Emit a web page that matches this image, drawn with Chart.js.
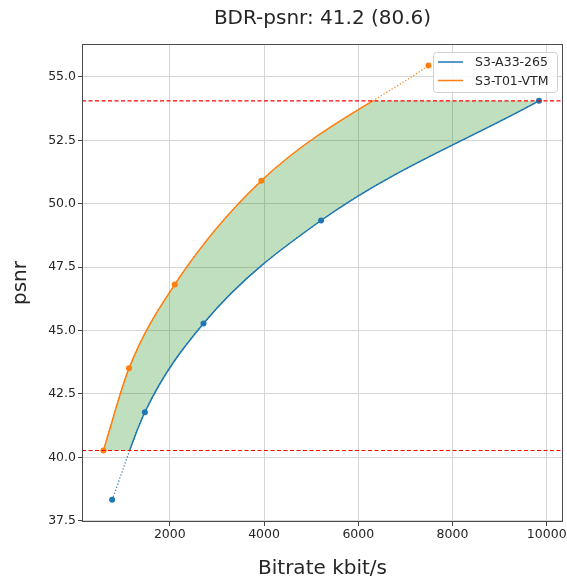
<!DOCTYPE html>
<html>
<head>
<meta charset="utf-8">
<script src="https://cdn.jsdelivr.net/npm/chart.js@4/dist/chart.umd.min.js"></script>
<style>
  html, body { margin: 0; padding: 0; background: #fff; }
  #wrap { width: 567px; height: 585px; }
</style>
</head>
<body>
<div id="wrap"><canvas id="chart" width="567" height="585"></canvas></div>
<script>
// values
const titleText = 'BDR-psnr: 41.2 (80.6)';
const seriesNames = ['S3-A33-265', 'S3-T01-VTM'];
const rateA = [775, 1470, 2715, 5210, 9835];
const psnrA = [38.33, 41.78, 45.28, 49.34, 54.06];
const rateB = [591, 1134, 2106, 3943, 7490];
const psnrB = [40.27, 43.51, 46.82, 50.91, 55.45];
const xTicks = [2000, 4000, 6000, 8000, 10000];
const yTicks = [37.5, 40.0, 42.5, 45.0, 47.5, 50.0, 52.5, 55.0];
const xRange = [136, 10345];
const yRange = [37.45, 56.3];

const colors = ['#1f77b4', '#ff7f0e'];

// overlapping psnr interval used for the BD integral
const bandLow = Math.max(Math.min(...psnrA), Math.min(...psnrB));
const bandHigh = Math.min(Math.max(...psnrA), Math.max(...psnrB));

const toXY = (xs, ys) => xs.map((x, i) => ({x: x, y: ys[i]}));

Chart.defaults.font.family = "'DejaVu Sans', sans-serif";
Chart.defaults.color = '#262626';

function bandRect(chart) {
    const y = chart.scales.y;
    const a = chart.chartArea;
    const top = y.getPixelForValue(bandHigh);
    const bottom = y.getPixelForValue(bandLow);
    return {left: a.left, top: top, width: a.right - a.left, height: bottom - top};
}

// solid lines only inside the band, dotted copies show the rest
const bandClip = {
    id: 'bandClip',
    beforeDatasetDraw(chart, args) {
        if (args.index > 1) return;
        const r = bandRect(chart);
        chart.ctx.save();
        chart.ctx.beginPath();
        chart.ctx.rect(r.left, r.top, r.width, r.height);
        chart.ctx.clip();
    },
    afterDatasetDraw(chart, args) {
        if (args.index > 1) return;
        chart.ctx.restore();
    }
};

// green area between the two curves
const areaFill = {
    id: 'areaFill',
    beforeDatasetsDraw(chart) {
        const ctx = chart.ctx;
        const metaA = chart.getDatasetMeta(0);
        const metaB = chart.getDatasetMeta(1);
        metaA.dataset.updateControlPoints(chart.chartArea, 'x');
        metaB.dataset.updateControlPoints(chart.chartArea, 'x');
        const ptsA = metaA.data;
        const ptsB = metaB.data;
        const r = bandRect(chart);

        ctx.save();
        ctx.beginPath();
        ctx.rect(r.left, r.top, r.width, r.height);
        ctx.clip();
        ctx.beginPath();
        ctx.moveTo(ptsB[0].x, ptsB[0].y);
        for (let i = 1; i < ptsB.length; i++) {
            const p = ptsB[i - 1], q = ptsB[i];
            ctx.bezierCurveTo(p.cp2x, p.cp2y, q.cp1x, q.cp1y, q.x, q.y);
        }
        const last = ptsA.length - 1;
        ctx.lineTo(ptsA[last].x, ptsA[last].y);
        for (let i = last; i > 0; i--) {
            const p = ptsA[i], q = ptsA[i - 1];
            ctx.bezierCurveTo(p.cp1x, p.cp1y, q.cp2x, q.cp2y, q.x, q.y);
        }
        ctx.closePath();
        ctx.fillStyle = 'rgba(0, 128, 0, 0.25)';
        ctx.fill();
        ctx.restore();
    }
};

// red dashed limits, axes frame and legend
const overlay = {
    id: 'overlay',
    afterDatasetsDraw(chart) {
        const ctx = chart.ctx;
        const a = chart.chartArea;
        ctx.save();
        ctx.strokeStyle = '#ff0000';
        ctx.lineWidth = 1.2;
        ctx.setLineDash([4, 2.5]);
        [bandLow, bandHigh].forEach(v => {
            const py = chart.scales.y.getPixelForValue(v);
            ctx.beginPath();
            ctx.moveTo(a.left, py);
            ctx.lineTo(a.right, py);
            ctx.stroke();
        });
        ctx.restore();
    },
    afterDraw(chart) {
        const ctx = chart.ctx;
        const a = chart.chartArea;
        ctx.save();
        ctx.strokeStyle = '#4a4a4a';
        ctx.lineWidth = 1;
        ctx.strokeRect(a.left + 0.5, a.top + 0.5, a.right - a.left - 1, a.bottom - a.top - 1);

        // legend box
        const bx = 433, by = 52, bw = 124, bh = 40;
        ctx.beginPath();
        ctx.roundRect(bx + 0.5, by + 0.5, bw, bh, 3);
        ctx.fillStyle = 'rgba(255,255,255,0.85)';
        ctx.fill();
        ctx.strokeStyle = '#d0d0d0';
        ctx.stroke();
        ctx.font = "12.5px 'DejaVu Sans'";
        ctx.textBaseline = 'middle';
        ctx.fillStyle = '#262626';
        seriesNames.forEach((name, i) => {
            const ly = by + 10 + i * 18.5;
            ctx.beginPath();
            ctx.strokeStyle = colors[i];
            ctx.lineWidth = 1.5;
            ctx.moveTo(bx + 5, ly);
            ctx.lineTo(bx + 30, ly);
            ctx.stroke();
            ctx.fillText(name, bx + 42, ly + 1);
        });
        ctx.restore();
    }
};

const solid = (i, data) => ({
    label: seriesNames[i],
    data: data,
    borderColor: colors[i],
    backgroundColor: colors[i],
    borderWidth: 1.5,
    pointRadius: 0,
    cubicInterpolationMode: 'monotone',
    fill: false
});

const dotted = (i, data) => ({
    label: seriesNames[i] + ' (extrapolated)',
    data: data,
    borderColor: colors[i],
    backgroundColor: colors[i],
    borderWidth: 1.2,
    borderDash: [1.2, 2],
    pointRadius: 3,
    pointBorderWidth: 0,
    cubicInterpolationMode: 'monotone',
    fill: false
});

new Chart(document.getElementById('chart'), {
    type: 'line',
    data: {
        datasets: [
            solid(0, toXY(rateA, psnrA)),
            solid(1, toXY(rateB, psnrB)),
            dotted(0, toXY(rateA, psnrA)),
            dotted(1, toXY(rateB, psnrB))
        ]
    },
    options: {
        responsive: false,
        animation: false,
        devicePixelRatio: 1,
        layout: { padding: { left: 0, right: 4, top: 0, bottom: 0 } },
        scales: {
            x: {
                type: 'linear',
                min: xRange[0],
                max: xRange[1],
                afterBuildTicks: axis => { axis.ticks = xTicks.map(v => ({value: v})); },
                afterFit: axis => {
                    axis.height = 63;
                    axis.paddingLeft = 0;
                    axis.paddingRight = 0;
                },
                ticks: {
                    font: { size: 12.5 },
                    color: '#262626',
                    padding: 1,
                    maxRotation: 0,
                    callback: v => String(v)
                },
                grid: { color: '#d6d6d6', tickColor: '#444', tickLength: 4 },
                border: { display: false },
                title: {
                    display: true,
                    text: 'Bitrate kbit/s',
                    font: { size: 20 },
                    color: '#262626',
                    padding: { top: 0, bottom: 4 }
                }
            },
            y: {
                type: 'linear',
                min: yRange[0],
                max: yRange[1],
                afterBuildTicks: axis => { axis.ticks = yTicks.map(v => ({value: v})); },
                afterFit: axis => { axis.width = 82; },
                ticks: {
                    font: { size: 12.5 },
                    color: '#262626',
                    padding: 2,
                    callback: v => v.toFixed(1)
                },
                grid: { color: '#d6d6d6', tickColor: '#444', tickLength: 4 },
                border: { display: false },
                title: {
                    display: true,
                    text: 'psnr',
                    font: { size: 20 },
                    color: '#262626',
                    padding: { top: 9, bottom: 0 }
                }
            }
        },
        plugins: {
            legend: { display: false },
            tooltip: { enabled: false },
            title: {
                display: true,
                text: titleText,
                fullSize: false,
                font: { size: 20, weight: 'normal' },
                color: '#262626',
                padding: { top: 7, bottom: 13 }
            }
        }
    },
    plugins: [bandClip, areaFill, overlay]
});
</script>
</body>
</html>
